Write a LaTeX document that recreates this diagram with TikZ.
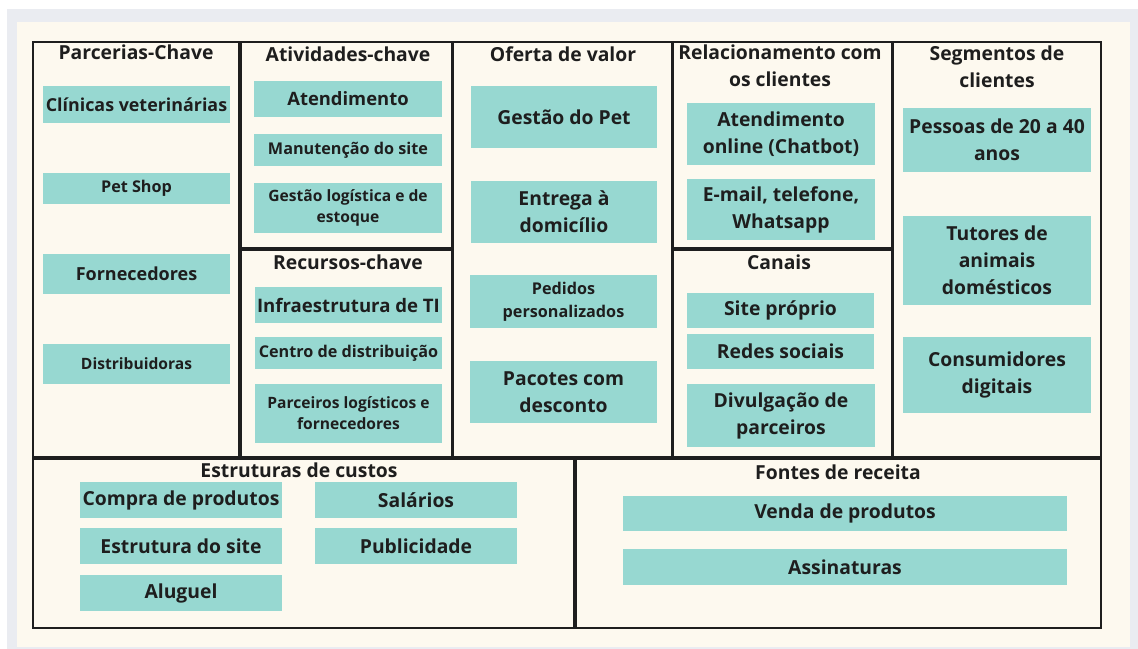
\documentclass[tikz,border=0pt]{standalone}
\usepackage{fontspec}
\setmainfont{Open Sans}
\usetikzlibrary{fit}
\definecolor{tealbox}{RGB}{151,216,209}
\definecolor{cream}{RGB}{253,249,239}
\definecolor{bggray}{RGB}{234,236,241}
\definecolor{ink}{RGB}{30,30,30}
\newcommand\fsbig{\fontsize{14.5pt}{20.25pt}\selectfont\bfseries}
\newcommand\fsmed{\fontsize{12.15pt}{17.25pt}\selectfont\bfseries}
\newcommand\fssmall{\fontsize{11.7pt}{15.75pt}\selectfont\bfseries}
\newcommand\fsat[1]{\fontsize{#1}{20.25pt}\selectfont\bfseries}
% item box: style, name, x1, y1, x2, y2, text
\newcommand\itm[7]{\node[#1, minimum width={(#5-#3)*0.75pt}, minimum height={(#6-#4)*0.75pt}] (#2) at ({(#3+#5)/2},{(#4+#6)/2}) {#7};}
\begin{document}
\begin{tikzpicture}[x=0.75pt,y=-0.75pt,
  section/.style={draw=ink, line width=1.5pt, inner sep=0pt, outer sep=0pt},
  item/.style={fill=tealbox, inner sep=0pt, outer sep=0pt, align=center, text=ink},
  big/.style={item, font=\fsbig},
  med/.style={item, font=\fsmed},
  small/.style={item, font=\fssmall},
  title/.style={align=center, text=ink, font=\fsbig, inner sep=0pt},
  titlebase/.style={title, anchor=base}]
\useasboundingbox (0,0) rectangle (1138,649);
\fill[white] (0,0) rectangle (1138,649);
\fill[bggray] (7,9) rectangle (1138,649);
\fill[cream] (17,22) rectangle (1130,647);

% sections
\node[section, fit={(33,42) (239,457)}] (parc) {};
\node[section, fit={(241,42) (452,248)}] (ativ) {};
\node[section, fit={(241,250) (452,457)}] (recu) {};
\node[section, fit={(453,42) (672,457)}] (ofer) {};
\node[section, fit={(673,42) (892,248)}] (rela) {};
\node[section, fit={(673,250) (892,457)}] (cana) {};
\node[section, fit={(893,42) (1101,457)}] (segm) {};
\node[section, fit={(33,459) (574,628)}] (cust) {};
\node[section, fit={(576,459) (1101,628)}] (fonte) {};

% titles
\node[titlebase] (tparc) at (136,60) {Parcerias-Chave};
\node[titlebase] (tativ) at (348,62) {Atividades-chave};
\node[titlebase] (tofer) at (563,62) {Oferta de valor};
\node[title] (trela) at (780,66) {Relacionamento com\\os clientes};
\node[title] (tsegm) at (997,67) {Segmentos de\\clientes};
\node[titlebase] (trecu) at (348,269) {Recursos-chave};
\node[titlebase] (tcana) at (779,269) {Canais};
\node[titlebase] (tcust) at (299,477) {Estruturas de custos};
\node[titlebase] (tfonte) at (838,479) {Fontes de receita};

% Parcerias
\itm{big, font=\fsat{13.4pt}}{cv}{43}{86}{230}{123}{Clínicas veterinárias}
\itm{med}{ps}{43}{173}{230}{204}{Pet Shop}
\itm{big, font=\fsat{13.5pt}}{fo}{43}{254}{230}{294}{Fornecedores}
\itm{small}{di}{43}{344}{230}{384}{Distribuidoras}
% Atividades
\itm{big, font=\fsat{13.8pt}}{at}{254}{81}{442}{117}{Atendimento}
\itm{med}{ma}{254}{134}{442}{166}{Manutenção do site}
\itm{small}{gl}{254}{183}{442}{233}{Gestão logística e de\\estoque}
% Recursos
\itm{big, font=\fsat{13.95pt}}{it}{255}{287}{442}{323}{Infraestrutura de TI}
\itm{med}{cd}{255}{337}{442}{369}{Centro de distribuição}
\itm{small}{pl}{255}{384}{442}{443}{Parceiros logísticos e\\fornecedores}
% Oferta
\itm{big}{gp}{471}{86}{657}{148}{Gestão do Pet}
\itm{big}{ed}{471}{181}{657}{243}{Entrega à\\domicílio}
\itm{med}{pp}{470}{275}{657}{328}{Pedidos\\personalizados}
\itm{big}{pc}{470}{361}{657}{423}{Pacotes com\\desconto}
% Relacionamento
\itm{big}{ao}{687}{103}{875}{165}{Atendimento\\online (Chatbot)}
\itm{big}{em}{687}{179}{875}{240}{E-mail, telefone,\\Whatsapp}
% Canais
\itm{big}{sp}{687}{293}{874}{328}{Site próprio}
\itm{big}{rs}{687}{334}{874}{369}{Redes sociais}
\itm{big}{dp}{687}{384}{875}{447}{Divulgação de\\parceiros}
% Segmentos
\itm{big}{pe}{903}{108}{1091}{172}{Pessoas de 20 a 40\\anos}
\itm{big}{tu}{903}{216}{1091}{305}{Tutores de\\animais\\domésticos}
\itm{big}{cs}{903}{337}{1091}{413}{Consumidores\\digitais}
% Custos
\itm{big}{cp}{80}{482}{282}{518}{Compra de produtos}
\itm{big}{es}{80}{528}{282}{564}{Estrutura do site}
\itm{big}{al}{80}{575}{282}{611}{Aluguel}
\itm{big}{sa}{315}{482}{517}{518}{Salários}
\itm{big}{pu}{315}{528}{517}{564}{Publicidade}
% Receita
\itm{big}{vp}{623}{496}{1067}{531}{Venda de produtos}
\itm{big}{as}{623}{549}{1067}{585}{Assinaturas}
\end{tikzpicture}
\end{document}
